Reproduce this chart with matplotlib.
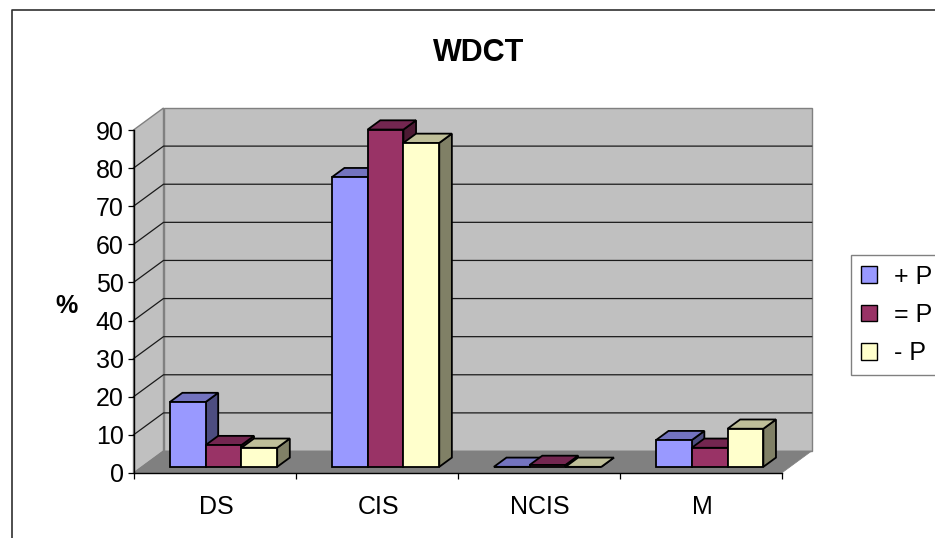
import matplotlib
matplotlib.use('Agg')
import matplotlib.pyplot as plt
from matplotlib.lines import Line2D
from matplotlib.patches import Patch

plt.rcParams['font.family'] = ['Liberation Sans', 'DejaVu Sans']

categories = ['DS', 'CIS', 'NCIS', 'M']
plus_p = [17, 76, 0, 7]
equal_p = [5.7, 88.5, 0.5, 5]
minus_p = [5, 85, 0, 10]
series_names = ['+ P', '= P', '- P']
y_ticks = [0, 10, 20, 30, 40, 50, 60, 70, 80, 90]

front_colors = ['#9999FF', '#993366', '#FFFFCC']
top_colors = ['#7373BF', '#732650', '#BFBF99']
side_colors = ['#4D4D80', '#4D1A33', '#808066']

W, H = 935, 538
LEFT, RIGHT, TOP, BOTTOM = 133.5, 781.7, 130, 473
# глубина псевдо-3D в единицах данных
DX = 30 / ((RIGHT - LEFT) / 4)
DY = 22 / ((BOTTOM - TOP) / 90)
BAR_W = 0.221
GROUP_START = 0.172
D0, D1 = 0.28, 0.70


def proj(x, v, d):
    return x + d * DX, v + d * DY


def face(ax, pts, color, edge, lw=1.3, z=2):
    xs = [p[0] for p in pts]
    ys = [p[1] for p in pts]
    ax.fill(xs, ys, facecolor=color, edgecolor=edge, linewidth=lw,
            joinstyle='miter', clip_on=False, zorder=z)


fig = plt.figure(figsize=(W / 100, H / 100), dpi=100)
ax = fig.add_axes([LEFT / W, 1 - BOTTOM / H, (RIGHT - LEFT) / W, (BOTTOM - TOP) / H])
ax.set_xlim(0, 4)
ax.set_ylim(0, 90)
ax.patch.set_visible(False)

# стены и пол
face(ax, [proj(0, 0, 1), proj(4, 0, 1), proj(4, 90, 1), proj(0, 90, 1)], '#C0C0C0', '#808080', 1.0, 1)
face(ax, [proj(0, 0, 0), proj(0, 0, 1), proj(0, 90, 1), proj(0, 90, 0)], '#C0C0C0', '#808080', 1.0, 1)
face(ax, [proj(0, 0, 0), proj(4, 0, 0), proj(4, 0, 1), proj(0, 0, 1)], '#808080', '#808080', 0.5, 1)

for t in y_ticks[1:-1]:
    xa, ya = proj(0, t, 0)
    xb, yb = proj(0, t, 1)
    xc, yc = proj(4, t, 1)
    ax.plot([xa, xb, xc], [ya, yb, yc], color='#1a1a1a', lw=0.9, clip_on=False, zorder=1.5)

# столбцы
all_series = [plus_p, equal_p, minus_p]
for i in range(len(categories)):
    for s, values in enumerate(all_series):
        v = values[i]
        x0 = i + GROUP_START + s * BAR_W
        x1 = x0 + BAR_W
        z = 2 + i + s * 0.1
        face(ax, [proj(x0, 0, D0), proj(x1, 0, D0), proj(x1, v, D0), proj(x0, v, D0)],
             front_colors[s], 'black', z=z + 0.02)
        face(ax, [proj(x0, v, D0), proj(x1, v, D0), proj(x1, v, D1), proj(x0, v, D1)],
             top_colors[s], 'black', z=z + 0.01)
        face(ax, [proj(x1, 0, D0), proj(x1, 0, D1), proj(x1, v, D1), proj(x1, v, D0)],
             side_colors[s], 'black', z=z)

for side in ['top', 'right']:
    ax.spines[side].set_visible(False)
for side in ['left', 'bottom']:
    ax.spines[side].set_linewidth(1.0)
    ax.spines[side].set_zorder(10)

ax.set_yticks(y_ticks)
ax.tick_params(axis='y', direction='out', length=4, width=0.9, pad=3, labelsize=18)
ax.set_xticks(range(5))
ax.set_xticklabels([])
ax.tick_params(axis='x', which='major', direction='out', length=4, width=0.9)
ax.set_xticks([i + 0.51 for i in range(4)], minor=True)
ax.set_xticklabels(categories, minor=True)
ax.tick_params(axis='x', which='minor', length=0, pad=16, labelsize=18)

fig.text(66 / W, 1 - 306 / H, '%', fontsize=18, fontweight='bold', ha='center', va='center')
fig.text(479 / W, 1 - 53 / H, 'WDCT', fontsize=22, fontweight='bold', ha='center', va='center')

handles = [Patch(facecolor=c, edgecolor='black', linewidth=1.0) for c in front_colors]
leg = fig.legend(handles, series_names, loc='upper left',
                 bbox_to_anchor=(851 / W, 1 - 255 / H), bbox_transform=fig.transFigure,
                 fontsize=18, fancybox=False, edgecolor='#808080', framealpha=1,
                 borderaxespad=0, borderpad=0.38, labelspacing=0.58,
                 handlelength=0.64, handleheight=0.64, handletextpad=0.72)
leg.get_frame().set_linewidth(1.0)

# рамка области диаграммы
fig.add_artist(Line2D([12 / W, 12 / W, 1], [0, 1 - 10 / H, 1 - 10 / H], color='#303030', lw=1.2))

fig.savefig('out.png', dpi=100)
